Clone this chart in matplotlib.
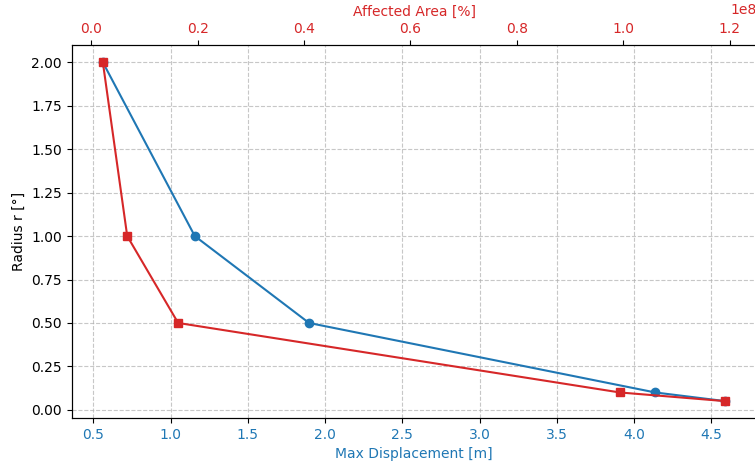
import matplotlib
matplotlib.use("Agg")
import matplotlib.pyplot as plt

# radius of the source region in degrees
radius = [2.0, 1.0, 0.5, 0.1, 0.05]
# maximum displacement for each radius
max_displacement = [0.562, 1.157, 1.896, 4.136, 4.59]
# affected area for each radius
affected_area = [0.0218e8, 0.0676e8, 0.1633e8, 0.9936e8, 1.192e8]

color_disp = 'tab:blue'
color_area = 'tab:red'

fig = plt.figure(figsize=(7.55, 4.63), dpi=100)
ax1 = fig.add_axes([0.095, 0.097, 0.907, 0.805])

ax1.plot(max_displacement, radius, marker='o', color=color_disp)
ax1.set_xlabel('Max Displacement [m]', color=color_disp)
ax1.set_ylabel('Radius r [°]')
ax1.tick_params(axis='x', labelcolor=color_disp)
ax1.grid(True, linestyle='--', alpha=0.7)

ax2 = ax1.twiny()
ax2.plot(affected_area, radius, marker='s', color=color_area)
ax2.set_xlabel('Affected Area [%]', color=color_area)
ax2.tick_params(axis='x', labelcolor=color_area)
ax2.xaxis.get_offset_text().set_color(color_area)

fig.savefig('out.png', dpi=100)
